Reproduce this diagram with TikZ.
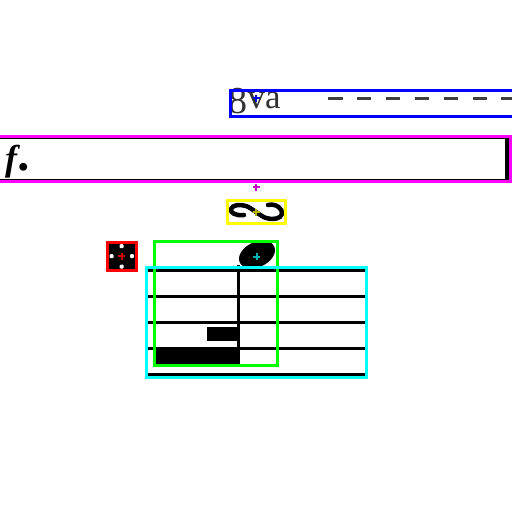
\documentclass[tikz,border=0pt]{standalone}
\usepackage{fontspec}
\newfontfamily\timesfont{Liberation Serif}
\definecolor{boxblue}{RGB}{0,0,255}
\definecolor{boxmagenta}{RGB}{255,0,255}
\definecolor{boxyellow}{RGB}{255,255,0}
\definecolor{boxred}{RGB}{255,0,0}
\definecolor{boxgreen}{RGB}{0,255,0}
\definecolor{boxcyan}{RGB}{0,255,255}
\tikzset{
  hitbox/.style={draw=#1,line width=3pt,rectangle,inner sep=0pt},
  staffline/.style={line width=2.6pt,black}
}
\begin{document}
\begin{tikzpicture}[x=1pt,y=-1pt]
\useasboundingbox (0,0) rectangle (512,512);
% octave line
\node[anchor=base west,inner sep=0pt,text=black!80] (OTT) at (228.5,108.5) {\timesfont\fontsize{35}{35}\selectfont\raisebox{-5pt}{\fontsize{38}{38}\selectfont 8}va};
\coordinate (OTTA) at (328,98.5);
\coordinate (OTTE) at (515,98.5);
\draw[black!75,line width=3pt,dash pattern=on 14.5pt off 14.4pt] (OTTA) -- (OTTE);
% dynamics bar
\node[draw,rectangle,line width=1.2pt,minimum width=509pt,minimum height=41pt,inner sep=0pt] (DYN) at (251.5,159.3) {};
\fill (505,138.2) rectangle (509.5,181);
\node[anchor=base west,inner sep=0pt] (FORTE) at (5,170) {\timesfont\bfseries\itshape\fontsize{36}{36}\selectfont f\kern2pt\fontsize{48}{48}\selectfont.};
% turn
\draw[line width=4.5pt,line cap=round] (244,215) .. controls (236,216) and (230,213) .. (231,209) .. controls (232,205) and (240,204) .. (246,206) .. controls (252,208) and (260,216) .. (266,218) .. controls (272,220) and (281,219) .. (282,214) .. controls (283,209) and (276,203) .. (268,205);
% square with dots
\fill (108.5,243.5) rectangle (135.5,269);
\foreach \x/\y in {121.7/246.2, 111.6/256.2, 132/256.2, 121.7/266.6}
  \fill[white,rounded corners=1pt] (\x-2,\y-2) rectangle (\x+2,\y+2);
% staff
\foreach \k in {0,...,4}
  \draw[staffline] (146,270.5+26*\k) -- (365,270.5+26*\k);
\fill[rotate around={25:(257,254.5)}] (257,254.5) ellipse [x radius=19, y radius=12.5];
\draw[line width=2.5pt] (238.5,265) -- (238.5,350);
\fill (207,327) rectangle (238,341);
\fill (156,348) rectangle (240,365);
% boxes
\node[hitbox=boxblue,minimum width=284.3pt,minimum height=26pt] (OTTB) at (372.85,103.7) {};
\node[hitbox=boxmagenta,minimum width=513pt,minimum height=45pt] (DYNB) at (253.5,158.8) {};
\node[hitbox=boxyellow,minimum width=57.3pt,minimum height=22.7pt] (TURNB) at (256.35,211.65) {};
\node[hitbox=boxred,minimum width=29pt,minimum height=27.7pt] (SQB) at (122,256.45) {};
\node[hitbox=boxgreen,minimum width=122.6pt,minimum height=124.5pt] (NOTEB) at (216,303.45) {};
\node[hitbox=boxcyan,minimum width=220pt,minimum height=109.7pt] (STAFFB) at (256.3,322.15) {};
% centre marks
\foreach \x/\y/\c in {256/98/boxblue!85!black, 256/187/boxmagenta!75!black, 256/212/boxyellow!70!black, 121.7/256/boxred!80!black, 256.7/256.7/boxcyan!70!black}
  \draw[\c,line width=1.8pt] (\x-3.5,\y) -- (\x+3.5,\y) (\x,\y-3.5) -- (\x,\y+3.5);
\end{tikzpicture}
\end{document}
